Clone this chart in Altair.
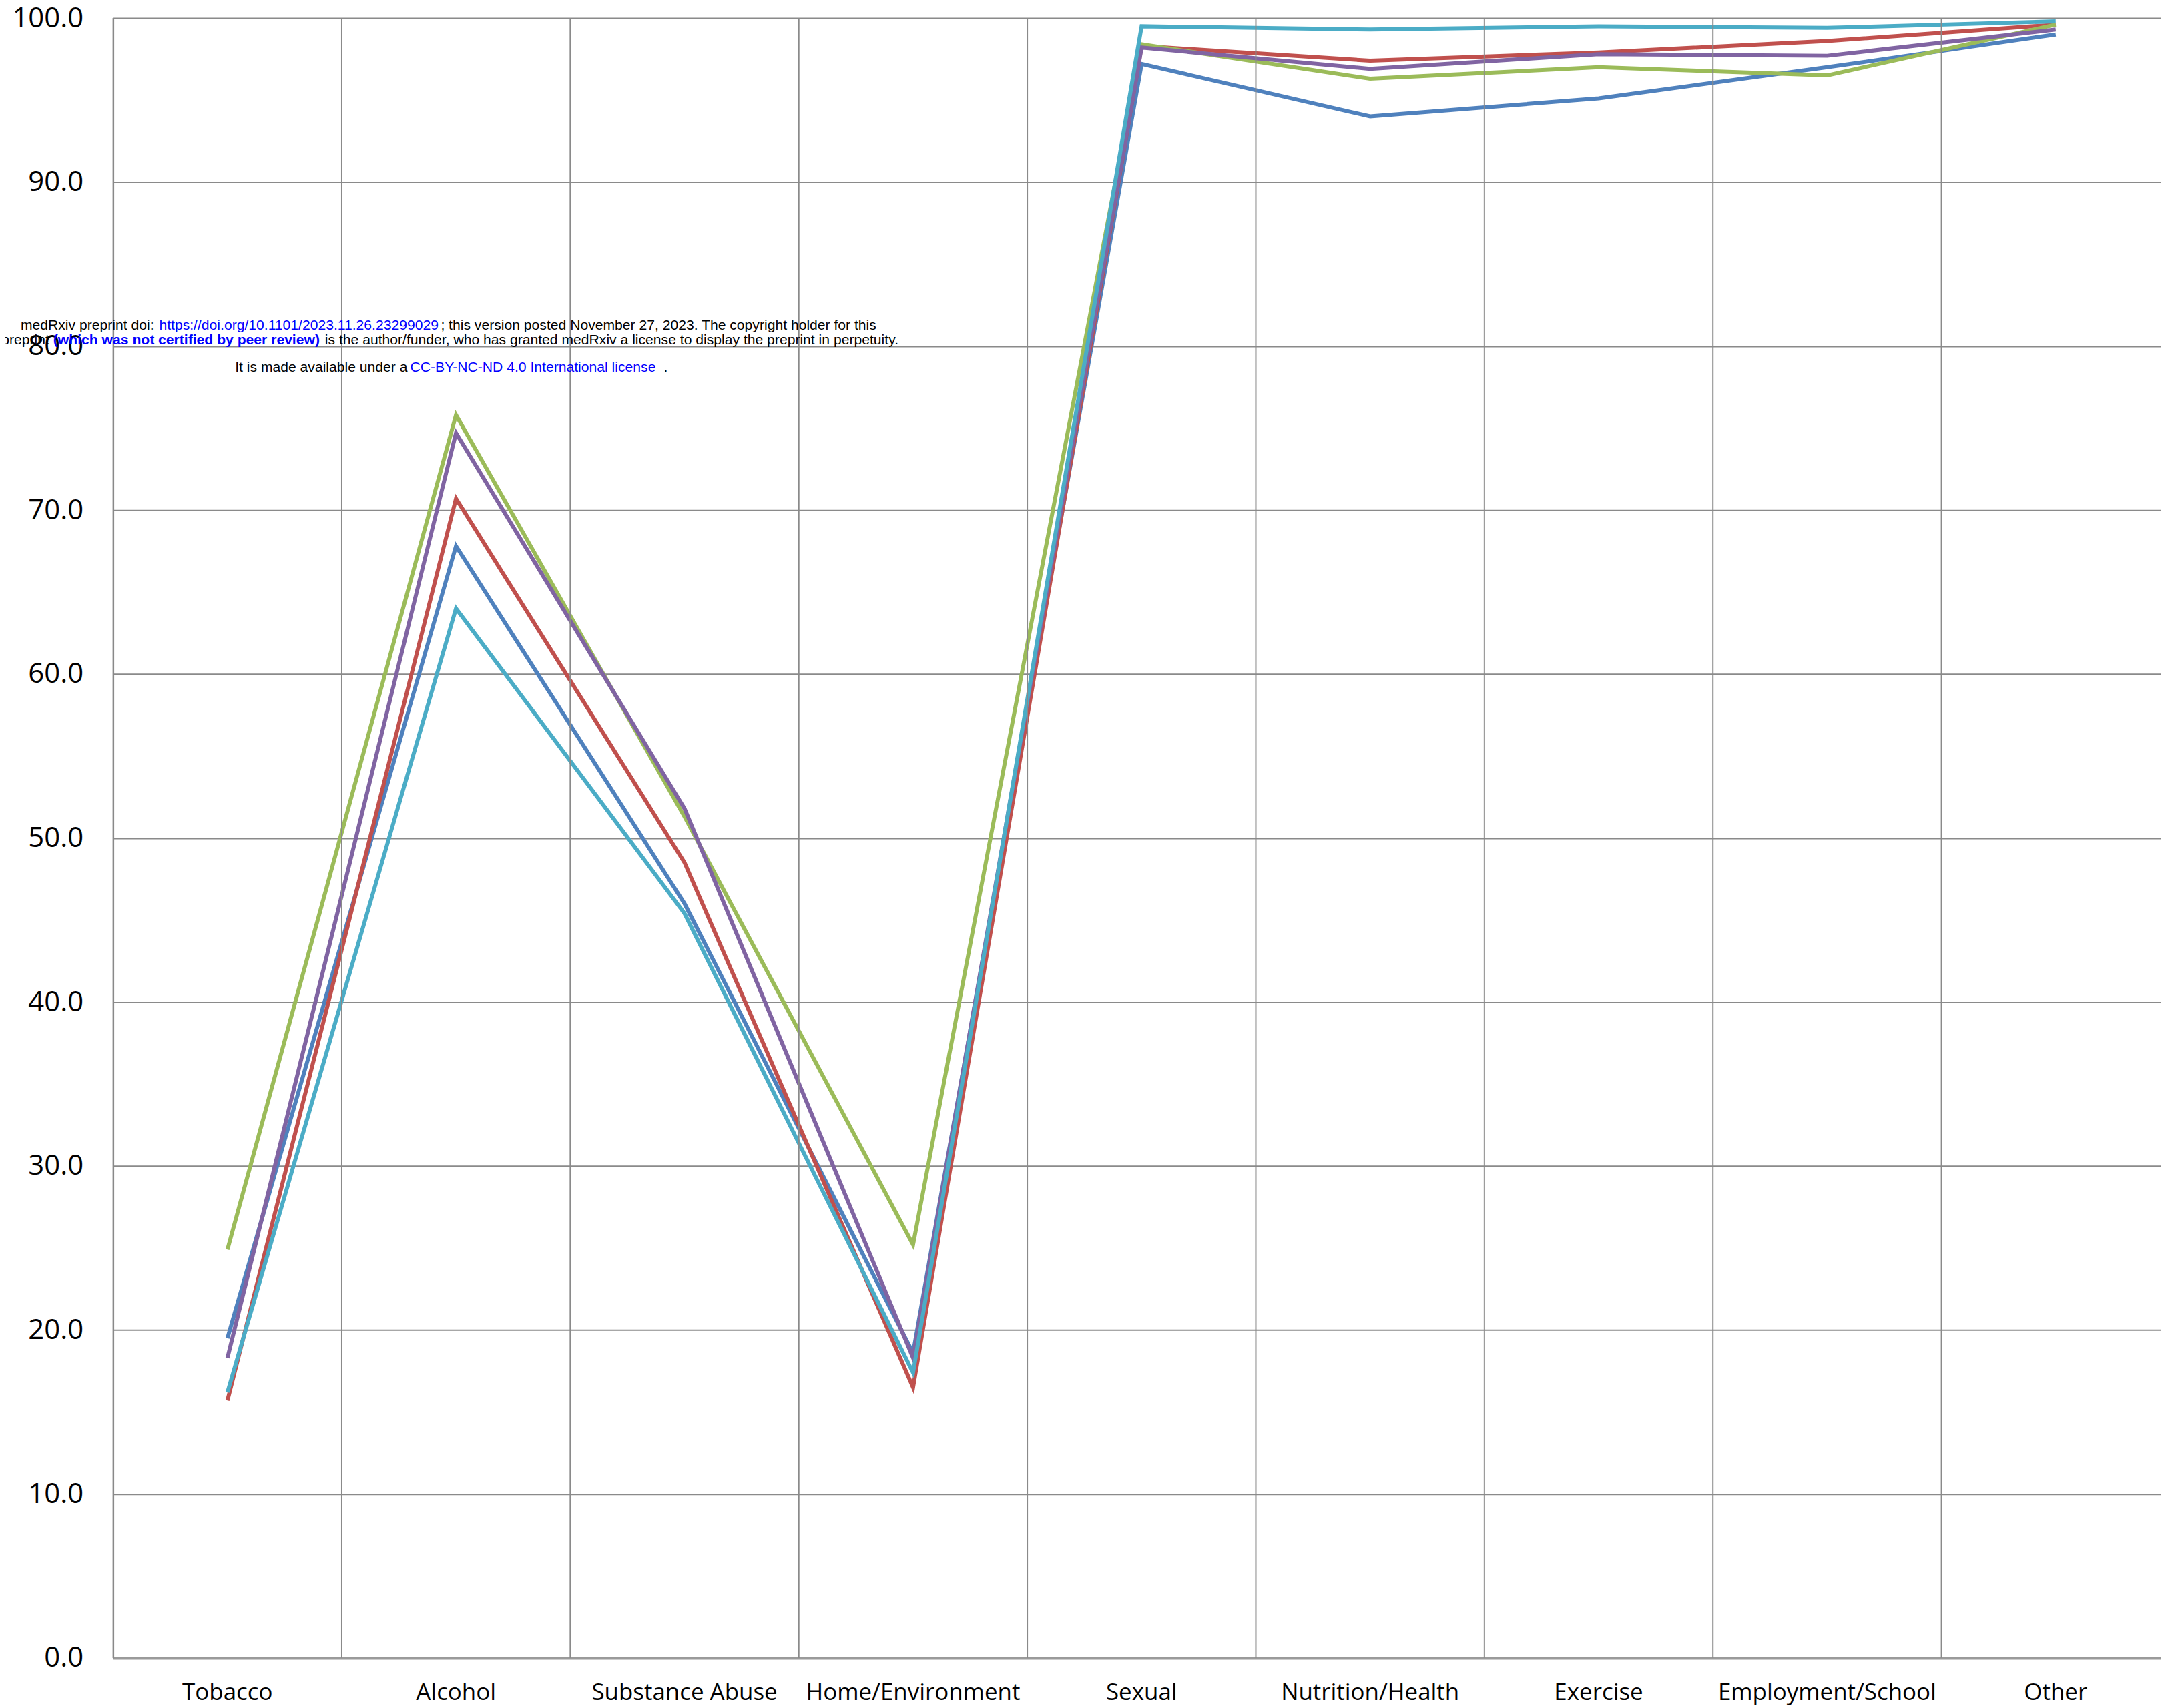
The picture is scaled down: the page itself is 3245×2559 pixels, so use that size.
import altair as alt
import pandas as pd

categories = ["Tobacco", "Alcohol", "Substance Abuse", "Home/Environment", "Sexual",
              "Nutrition/Health", "Exercise", "Employment/School", "Other"]
series_names = ["Series 1", "Series 2", "Series 3", "Series 4", "Series 5"]
series1_blue = [19.5, 67.8, 46.0, 18.6, 97.2, 94.0, 95.1, 97.0, 99.0]
series2_red = [15.7, 70.7, 48.5, 16.5, 98.3, 97.4, 97.9, 98.6, 99.6]
series3_green = [24.9, 75.8, 51.3, 25.2, 98.4, 96.3, 97.0, 96.5, 99.6]
series4_purple = [18.3, 74.7, 51.8, 18.3, 98.2, 96.9, 97.8, 97.7, 99.3]
series5_cyan = [16.2, 64.0, 45.4, 17.4, 99.5, 99.3, 99.5, 99.4, 99.8]
y_ticks = [0, 10, 20, 30, 40, 50, 60, 70, 80, 90, 100]
colors = ["#4F81BD", "#C0504D", "#9BBB59", "#8064A2", "#4BACC6"]

rows = []
for name, vals in zip(series_names, [series1_blue, series2_red, series3_green,
                                     series4_purple, series5_cyan]):
    for i, (c, v) in enumerate(zip(categories, vals)):
        rows.append({"category": c, "series": name, "value": v, "order": i})
df = pd.DataFrame(rows)
grid_df = pd.DataFrame({"category": categories})

W, H = 3075, 2463
XRANGE = 3089  # plot area runs past the right page edge, as in the reference
GRID = "#8a8a8a"
xscale = alt.Scale(domain=categories, paddingInner=0, paddingOuter=0, range=[0, XRANGE])
xaxis = alt.Axis(title=None, labelAngle=0, labelFont="Open Sans", labelFontSize=35,
                 labelColor="#000000", labelPadding=52, labelBaseline="middle",
                 ticks=False, domainColor="#9a9a9a", domainWidth=4, grid=False,
                 labelLimit=0)

grid = alt.Chart(grid_df).mark_rule(color=GRID, strokeWidth=2).encode(
    x=alt.X("category:N", bandPosition=0, scale=xscale, sort=categories)
)

lines = alt.Chart(df).mark_line(strokeWidth=6).encode(
    x=alt.X("category:N", sort=categories, scale=xscale, axis=xaxis),
    y=alt.Y("value:Q", scale=alt.Scale(domain=[0, 100], nice=False),
            axis=alt.Axis(title=None, values=y_ticks, format=".1f", labelFont="Open Sans",
                          labelFontSize=42, labelColor="#000000", labelPadding=45,
                          ticks=False, tickSize=0, domainColor=GRID, domainWidth=2,
                          gridColor=GRID, gridWidth=2, labelFlush=False,
                          labelOverlap=False)),
    color=alt.Color("series:N", scale=alt.Scale(domain=series_names, range=colors), legend=None),
    order=alt.Order("order:Q"),
)

# medRxiv watermark text segments (page coords -> plot coords: x-170, y-24)
OX, OY = 170, 24
segments = [
    ("medRxiv preprint doi:", 31, 486, "left", "#000000", "normal"),
    ("https://doi.org/10.1101/2023.11.26.23299029", 239, 486, "left", "#0000ff", "normal"),
    ("; this version posted November 27, 2023. The copyright holder for this", 662, 486, "left", "#000000", "normal"),
    ("preprint", 74, 508, "right", "#000000", "normal"),
    ("(which was not certified by peer review)", 80, 508, "left", "#0000ff", "bold"),
    ("is the author/funder, who has granted medRxiv a license to display the preprint in perpetuity.", 488, 508, "left", "#000000", "normal"),
    ("It is made available under a", 353, 549, "left", "#000000", "normal"),
    ("CC-BY-NC-ND 4.0 International license", 616, 549, "left", "#0000ff", "normal"),
    (".", 997, 549, "left", "#000000", "normal"),
]
texts = []
for t, px, py, al, col, wt in segments:
    texts.append(
        alt.Chart(pd.DataFrame({"t": [t]})).mark_text(
            font="Liberation Sans", fontSize=21.2, align=al, baseline="middle",
            color=col, fontWeight=wt
        ).encode(text="t:N", x=alt.value(px - OX), y=alt.value(py - OY))
    )

chart = alt.layer(lines, grid, *texts).properties(
    width=W, height=H,
    autosize=alt.AutoSizeParams(type="none"),
    padding={"left": 162, "top": 16, "right": 0, "bottom": 70},
    background="white",
).configure_view(stroke=None)

chart.save("out.html", embed_options={"renderer": "svg", "actions": False})
